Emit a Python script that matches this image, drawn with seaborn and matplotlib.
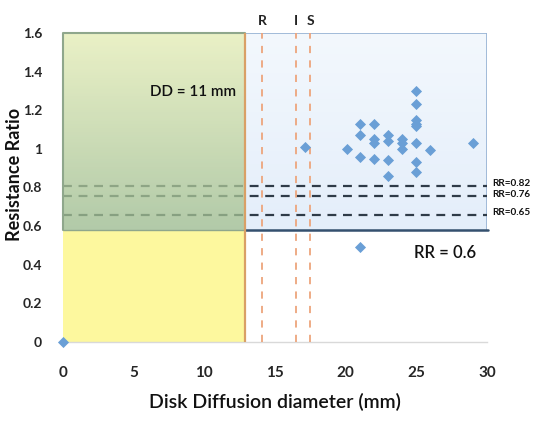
import numpy as np
import pandas as pd
import matplotlib
matplotlib.use("Agg")
import matplotlib.pyplot as plt
import seaborn as sns
from matplotlib.colors import LinearSegmentedColormap

# ---- data ----
dd_mm = [0, 17.1, 20.1,
         21, 21, 21, 21,
         22, 22, 22, 22,
         23, 23, 23, 23,
         24, 24, 24,
         25, 25, 25, 25, 25, 25, 25, 25,
         26, 29]
resistance_ratio = [0.0, 1.01, 1.0,
                    1.13, 1.07, 0.96, 0.49,
                    1.13, 1.05, 1.03, 0.95,
                    1.07, 1.04, 0.94, 0.86,
                    1.05, 1.03, 1.0,
                    1.30, 1.23, 1.15, 1.13, 1.12, 1.03, 0.93, 0.88,
                    0.995, 1.03]
dd_cutoff = 12.9          # "DD = 11 mm" boundary as drawn
rr_cutoff = 0.58          # "RR = 0.6" boundary as drawn
breakpoints_x = [14.1, 16.5, 17.5]
breakpoint_labels = ["R", "I", "S"]
rr_lines = [0.81, 0.755, 0.66]
rr_line_labels = ["RR=0.82", "RR=0.76", "RR=0.65"]
x_ticks = [0, 5, 10, 15, 20, 25, 30]
y_ticks = [0, 0.2, 0.4, 0.6, 0.8, 1, 1.2, 1.4, 1.6]
y_tick_labels = ["0", "0.2", "0.4", "0.6", "0.8", "1", "1.2", "1.4", "1.6"]

df = pd.DataFrame({"dd": dd_mm, "rr": resistance_ratio})

sns.set_theme(style="white")
plt.rcParams["font.family"] = ["Lato", "DejaVu Sans"]

fig = plt.figure(figsize=(5.38, 4.25), dpi=100)
ax = fig.add_axes([63/538, 1-342/425, (487-63)/538, (342-33)/425])
ax.set_xlim(0, 30)
ax.set_ylim(0, 1.6)

# blue region
blue_cmap = LinearSegmentedColormap.from_list("b", ["#e4eefa", "#f3f8fd"])
ax.imshow(np.linspace(0, 1, 100).reshape(-1, 1), cmap=blue_cmap, origin="lower",
          extent=[dd_cutoff, 30, rr_cutoff, 1.6], aspect="auto", zorder=0.5)
ax.plot([dd_cutoff, 30, 30], [1.6, 1.6, rr_cutoff], color="#9bb6d6", lw=1.3, zorder=1)

# yellow region
ax.axhspan(0, rr_cutoff, xmin=0, xmax=dd_cutoff/30, color="#fdf89e", zorder=0.5, lw=0)

# dashed RR lines
for y in rr_lines:
    ax.plot([0, 30], [y, y], color="#2f3b48", lw=1.6, ls=(0, (4, 3)), zorder=2)

# green region (semi transparent gradient)
green_cmap = LinearSegmentedColormap.from_list("g", ["#9cbb90", "#e4edb6"])
ax.imshow(np.linspace(0, 1, 100).reshape(-1, 1), cmap=green_cmap, origin="lower",
          extent=[0, dd_cutoff, rr_cutoff, 1.6], aspect="auto", zorder=3, alpha=0.78)
ax.plot([0, 0, dd_cutoff], [rr_cutoff, 1.6, 1.6], color="#8fa78c", lw=1.5, zorder=3.1,
        clip_on=False)
ax.plot([0, dd_cutoff], [rr_cutoff, rr_cutoff], color="#8fa78c", lw=1.0, zorder=3.1)

# RR cutoff line in blue region
ax.plot([dd_cutoff, 30.1], [rr_cutoff, rr_cutoff], color="#34506e", lw=1.8, zorder=4,
        clip_on=False)

# DD cutoff line
ax.axvline(dd_cutoff, ymin=0, ymax=1, color="#d9a066", lw=1.6, zorder=4)

# breakpoint dashed lines
for x in breakpoints_x:
    ax.axvline(x, ymin=0, ymax=1, color="#eda57c", lw=1.3, ls=(0, (4, 4)), zorder=4)
for x, lab in zip(breakpoints_x, breakpoint_labels):
    ax.text(x, 1.66, lab, ha="center", va="center", fontsize=10, fontweight="bold",
            color="#222222")

# data points
sns.scatterplot(data=df, x="dd", y="rr", ax=ax, marker="D", s=32, color="#6a9fd6",
                edgecolor="#6a9fd6", linewidth=0, zorder=5, clip_on=False, legend=False)

# annotations
ax.text(9.2, 1.295, "DD = 11 mm", ha="center", va="center", fontsize=11,
        fontweight="semibold", color="#111111", zorder=6)
ax.text(27.0, 0.46, "RR = 0.6", ha="center", va="center", fontsize=12,
        fontweight="semibold", color="#111111", zorder=6)
for y, lab in zip(rr_lines, rr_line_labels):
    ax.text(30.4, y + 0.01, lab, ha="left", va="center", fontsize=7.2,
            fontweight="bold", color="#111111", clip_on=False)

# axes styling
ax.set_xticks(x_ticks)
ax.set_xticklabels([str(t) for t in x_ticks], fontsize=11, fontweight="bold")
ax.set_yticks(y_ticks)
ax.set_yticklabels(y_tick_labels, fontsize=10, fontweight="bold")
ax.tick_params(axis="x", length=0, pad=17)
ax.tick_params(axis="y", length=0, pad=15)
for s in ["top", "right", "left"]:
    ax.spines[s].set_visible(False)
ax.spines["bottom"].set_color("#d9d9d9")
ax.spines["bottom"].set_linewidth(1)
ax.spines["bottom"].set_zorder(0.6)
ax.grid(False)

ax.set_xlabel("Disk Diffusion diameter (mm)", fontsize=14, fontweight="semibold",
              color="#111111", va="center")
ax.xaxis.set_label_coords(0.5, (342-402)/309)
ax.set_ylabel("Resistance Ratio", fontsize=13, fontweight="bold", color="#111111",
              va="center")
ax.yaxis.set_label_coords((15-63)/424, (342-174)/309)

fig.savefig("out.png", dpi=100)
